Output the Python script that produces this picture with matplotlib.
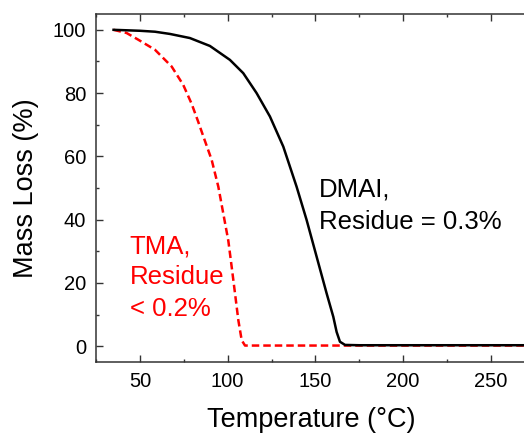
import matplotlib
matplotlib.use("Agg")
import matplotlib.pyplot as plt
from matplotlib.ticker import MultipleLocator

plt.rcParams["font.family"] = ["Liberation Sans", "DejaVu Sans"]

# DMAI (solid black)
dmai_t = [35, 50, 58.6, 67.1, 78.5, 89.9, 101.3, 108.9, 116.5, 124.1, 131.7,
          139.3, 145.0, 150.7, 156.4, 160.2, 162.1, 164.0, 166.9, 175, 200, 230, 270]
dmai_m = [100, 99.7, 99.4, 98.7, 97.4, 94.9, 90.5, 86.3, 80.0, 72.6, 63.1,
          50.4, 39.9, 28.3, 16.7, 9.3, 4.5, 1.4, 0.4, 0.3, 0.3, 0.3, 0.3]

# TMA (dashed red)
tma_t = [35, 42.4, 49, 58.6, 68.1, 74.7, 79.5, 83.2, 86.1, 90.9, 94.7, 97.5,
         100.4, 102.3, 104.2, 106.1, 108.0, 109.9, 120, 200, 270]
tma_m = [100, 99.0, 96.9, 93.7, 88.4, 82.6, 76.6, 71.0, 66.4, 58.9, 50.4, 42.0,
         33.3, 25.1, 16.7, 8.2, 1.9, 0.2, 0.2, 0.2, 0.2]

dmai_lines = ["DMAI,", "Residue = 0.3%"]
tma_lines = ["TMA,", "Residue", "< 0.2%"]

fig = plt.figure(figsize=(5.24, 4.33), dpi=100)
ax = fig.add_axes([96 / 524, 71 / 433, 430 / 524, 348 / 433])

ax.plot(dmai_t, dmai_m, color="black", lw=1.8, zorder=3)
ax.plot(tma_t, tma_m, color="red", lw=1.8, ls=(0, (3, 1.6)), zorder=2)

ax.set_xlim(25, 270)
ax.set_ylim(-5, 105)
ax.xaxis.set_major_locator(MultipleLocator(50))
ax.xaxis.set_minor_locator(MultipleLocator(25))
ax.yaxis.set_major_locator(MultipleLocator(20))
ax.yaxis.set_minor_locator(MultipleLocator(10))
ax.tick_params(which="both", direction="in", top=True, right=False,
               width=1.0, color="#333333", labelsize=14.5, pad=7)
ax.tick_params(which="major", length=5)
ax.tick_params(which="minor", length=2.5)
for s in ax.spines.values():
    s.set_linewidth(1.1)
    s.set_color("#333333")

ax.set_xlabel("Temperature (°C)", fontsize=19.5, labelpad=12)
ax.set_ylabel("Mass Loss (%)", fontsize=19.5, labelpad=10)

# annotations, one text per line at the baselines
for txt, yb in zip(dmai_lines, [47.2, 37.0]):
    ax.text(152, yb, txt, fontsize=18.5, color="black", va="baseline", ha="left")
for txt, yb in zip(tma_lines, [29.4, 19.6, 9.5]):
    ax.text(44.3, yb, txt, fontsize=18.5, color="red", va="baseline", ha="left")

fig.savefig("out.png", dpi=100)
